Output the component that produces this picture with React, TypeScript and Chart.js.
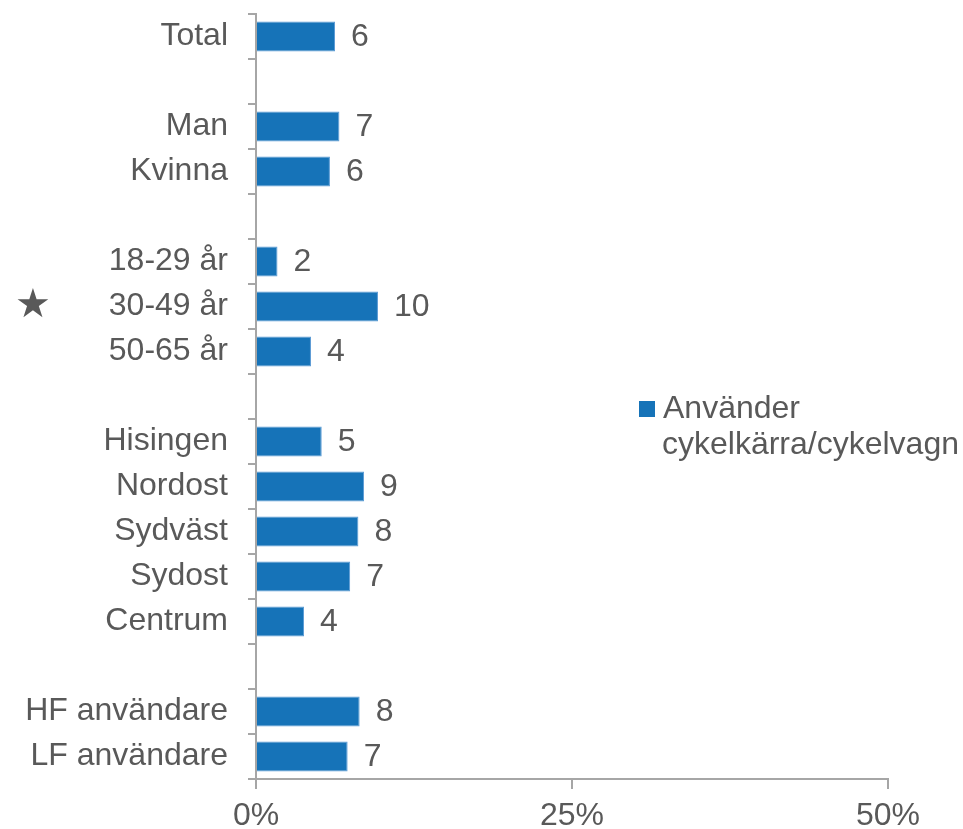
import React, { useEffect, useRef } from "react";
import { Chart, registerables } from "chart.js";

Chart.register(...registerables);

const categories = [
  "Total", "", "Man", "Kvinna", "", "18-29 år", "30-49 år", "50-65 år", "",
  "Hisingen", "Nordost", "Sydväst", "Sydost", "Centrum", "", "HF användare", "LF användare",
];
const values: (number | null)[] = [
  6.25, null, 6.6, 5.85, null, 1.7, 9.65, 4.35, null,
  5.2, 8.55, 8.1, 7.45, 3.8, null, 8.2, 7.25,
];
const xTicks = [0, 25, 50];
const seriesName = ["Använder", "cykelkärra/cykelvagn"];
const starredCategory = "30-49 år";

const FONT = "'Liberation Sans', Arial, sans-serif";
const TEXT = "#595959";
const AXIS = "#a6a6a6";
const BAR = "#1673b8";

export default function App() {
  const ref = useRef<HTMLCanvasElement | null>(null);
  useEffect(() => {
    if (!ref.current) return;
    const overlay = {
      id: "overlay",
      afterDatasetsDraw(chart: any) {
        const ctx = chart.ctx;
        const meta = chart.getDatasetMeta(0);
        ctx.save();
        ctx.fillStyle = TEXT;
        ctx.font = `32px ${FONT}`;
        ctx.textAlign = "left";
        ctx.textBaseline = "middle";
        meta.data.forEach((el: any, i: number) => {
          const v = values[i];
          if (v == null) return;
          ctx.fillText(String(Math.round(v)), el.x + 16, el.y + 1);
        });
        // star
        const yScale = chart.scales.y;
        const si = categories.indexOf(starredCategory);
        const sy = yScale.getPixelForValue(si);
        ctx.font = `40px 'DejaVu Sans', sans-serif`;
        ctx.textAlign = "center";
        ctx.fillText("★", 33, sy);
        // legend
        ctx.fillStyle = BAR;
        ctx.fillRect(639, 401, 16, 16);
        ctx.fillStyle = TEXT;
        ctx.font = `32px ${FONT}`;
        ctx.textAlign = "left";
        ctx.textBaseline = "alphabetic";
        ctx.fillText(seriesName[0], 663, 418);
        ctx.fillText(seriesName[1], 662, 454);
        ctx.restore();
      },
    };
    const chart = new Chart(ref.current, {
      type: "bar",
      data: {
        labels: categories,
        datasets: [
          {
            label: seriesName.join(" "),
            data: values,
            backgroundColor: BAR,
            borderColor: "#5b9bd5",
            borderWidth: 1,
            categoryPercentage: 1,
            barPercentage: 0.67,
          },
        ],
      },
      options: {
        indexAxis: "y",
        responsive: false,
        animation: false,
        layout: { padding: { top: 14, right: 75, left: 0, bottom: 0 } },
        plugins: { legend: { display: false }, tooltip: { enabled: false } },
        scales: {
          x: {
            min: 0,
            max: 50,
            afterBuildTicks(scale: any) {
              scale.ticks = xTicks.map((v) => ({ value: v }));
            },
            afterFit(scale: any) {
              scale.height = 50;
              scale.paddingLeft = 0;
              scale.paddingRight = 0;
            },
            ticks: {
              color: TEXT,
              font: { family: FONT, size: 32 },
              padding: 8,
              callback: (v: any) => `${v}%`,
              maxRotation: 0,
            },
            grid: { drawOnChartArea: false, color: AXIS, tickLength: 10, lineWidth: 2 },
            border: { color: AXIS, width: 2 },
          },
          y: {
            afterFit(scale: any) {
              scale.width = 256;
              scale.paddingTop = 0;
              scale.paddingBottom = 0;
            },
            ticks: {
              color: TEXT,
              font: { family: FONT, size: 32 },
              padding: 20,
              autoSkip: false,
            },
            grid: { offset: true, drawOnChartArea: false, color: AXIS, tickLength: 8, lineWidth: 2 },
            border: { color: AXIS, width: 2 },
          },
        },
      },
      plugins: [overlay],
    });
    return () => chart.destroy();
  }, []);
  return (
    <div style={{ position: "fixed", left: 0, top: 0, width: 963, height: 829, background: "#fff" }}>
      <canvas ref={ref} width={963} height={829} style={{ display: "block" }} />
    </div>
  );
}
